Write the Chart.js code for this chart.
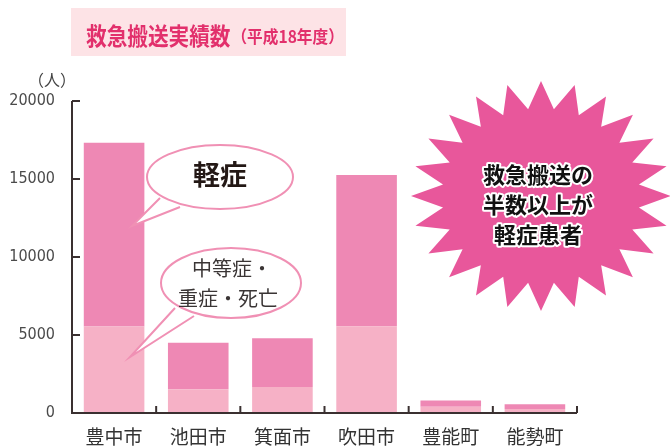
<!DOCTYPE html>
<html>
<head>
<meta charset="utf-8">
<script src="https://cdn.jsdelivr.net/npm/chart.js@4/dist/chart.umd.min.js"></script>
<style>
  html, body { margin: 0; padding: 0; background: #fff; }
  #wrap { width: 670px; height: 448px; position: relative; }
</style>
</head>
<body>
<div id="wrap"><canvas id="chart" width="670" height="448"></canvas></div>
<script>
// 救急搬送実績数（平成18年度）
const cities = ['豊中市', '池田市', '箕面市', '吹田市', '豊能町', '能勢町']
const severe = [5550, 1520, 1660, 5560, 400, 260]     // 中等症・重症・死亡
const mild   = [11780, 2990, 3130, 9700, 400, 300]    // 軽症
const yTicks = [0, 5000, 10000, 15000, 20000]

const CJK = '"Noto Sans CJK JP", "Noto Sans", sans-serif'
const DARK = '#ee88b4'
const LIGHT = '#f6b1c6'

function bubble(ctx, cx, cy, rx, ry, tail) {
  ctx.save()
  ctx.beginPath()
  ctx.ellipse(cx, cy, rx, ry, 0, 0, Math.PI * 2)
  ctx.fillStyle = '#fff'
  ctx.fill()
  ctx.strokeStyle = '#f090b4'
  ctx.lineWidth = 2
  ctx.stroke()
  // tail
  ctx.beginPath()
  ctx.moveTo(tail[0][0], tail[0][1])
  ctx.lineTo(tail[2][0], tail[2][1])
  ctx.lineTo(tail[1][0], tail[1][1])
  ctx.closePath()
  ctx.fill()
  ctx.beginPath()
  ctx.moveTo(tail[0][0], tail[0][1])
  ctx.lineTo(tail[2][0], tail[2][1])
  ctx.lineTo(tail[1][0], tail[1][1])
  ctx.stroke()
  ctx.restore()
}

function starburst(ctx, cx, cy, rx, ry, spikes, inner) {
  ctx.save()
  ctx.beginPath()
  for (let i = 0; i < spikes * 2; i++) {
    const a = -Math.PI / 2 + i * Math.PI / spikes
    const r = i % 2 === 0 ? 1 : inner
    const x = cx + Math.cos(a) * rx * r
    const y = cy + Math.sin(a) * ry * r
    if (i === 0) ctx.moveTo(x, y); else ctx.lineTo(x, y)
  }
  ctx.closePath()
  ctx.fillStyle = '#e8579b'
  ctx.fill()
  ctx.restore()
}

// condensed text: draw with a horizontal squeeze
function squeezed(ctx, text, x, y, sx) {
  ctx.save()
  ctx.translate(x, y)
  ctx.scale(sx, 1)
  ctx.fillText(text, 0, 0)
  ctx.restore()
  return ctx.measureText(text).width * sx
}

const decor = {
  id: 'decor',
  beforeDraw(chart) {
    const ctx = chart.ctx
    // title box
    ctx.save()
    ctx.fillStyle = '#fde3e6'
    ctx.fillRect(71, 8, 275, 48)
    ctx.fillStyle = '#e2306c'
    ctx.textBaseline = 'alphabetic'
    ctx.font = 'bold 24px ' + CJK
    const w = squeezed(ctx, '救急搬送実績数', 86, 45, 0.86)
    ctx.font = 'bold 17px ' + CJK
    squeezed(ctx, '（平成18年度）', 86 + w + 1, 43, 0.92)
    // unit
    ctx.fillStyle = '#444'
    ctx.font = '16px ' + CJK
    ctx.textAlign = 'left'
    ctx.fillText('（人）', 28, 86)
    ctx.restore()
  },
  afterDatasetsDraw(chart) {
    const ctx = chart.ctx
    const x = chart.scales.x, y = chart.scales.y
    const left = chart.chartArea.left, right = chart.chartArea.right
    const base = y.getPixelForValue(0)
    ctx.save()
    ctx.strokeStyle = '#3a3030'
    ctx.lineWidth = 2
    // axes
    ctx.beginPath()
    ctx.moveTo(left, y.getPixelForValue(20000))
    ctx.lineTo(left, base)
    ctx.lineTo(right, base)
    ctx.stroke()
    // inward y ticks
    yTicks.forEach(v => {
      if (v === 0) return
      const py = y.getPixelForValue(v)
      ctx.beginPath()
      ctx.moveTo(left, py)
      ctx.lineTo(left + 8, py)
      ctx.stroke()
    })
    // x ticks between categories and at the end
    for (let i = 0; i < cities.length; i++) {
      const gx = i + 1 < cities.length ? (x.getPixelForValue(i) + x.getPixelForValue(i + 1)) / 2 : right
      ctx.beginPath()
      ctx.moveTo(gx, base)
      ctx.lineTo(gx, base - 7)
      ctx.stroke()
    }
    ctx.restore()

    // speech bubbles
    bubble(ctx, 220, 177, 73, 32, [[160, 198], [180, 207], [132, 226]])
    bubble(ctx, 231, 283, 70, 35, [[175, 308], [194, 316], [130, 357]])
    ctx.save()
    ctx.textAlign = 'center'
    ctx.textBaseline = 'middle'
    ctx.fillStyle = '#231815'
    ctx.font = 'bold 27px ' + CJK
    ctx.fillText('軽症', 220, 175)
    ctx.fillStyle = '#3a3535'
    ctx.font = '20px ' + CJK
    ctx.fillText('中等症・', 232, 268)
    ctx.fillText('重症・死亡', 228, 298)
    ctx.restore()

    // starburst
    starburst(ctx, 541, 196, 130, 115, 24, 0.76)
    ctx.save()
    ctx.textAlign = 'center'
    ctx.textBaseline = 'middle'
    ctx.font = 'bold 22px ' + CJK
    ctx.lineJoin = 'round'
    ctx.strokeStyle = '#fff'
    ctx.lineWidth = 4
    ctx.fillStyle = '#111'
    ;['救急搬送の', '半数以上が', '軽症患者'].forEach((t, i) => {
      ctx.strokeText(t, 538, 175 + i * 30)
      ctx.fillText(t, 538, 175 + i * 30)
    })
    ctx.restore()
  }
}

new Chart(document.getElementById('chart'), {
  type: 'bar',
  data: {
    labels: cities,
    datasets: [
      { label: '中等症・重症・死亡', data: severe, backgroundColor: LIGHT },
      { label: '軽症', data: mild, backgroundColor: DARK }
    ]
  },
  options: {
    responsive: false,
    animation: false,
    events: [],
    layout: { padding: { top: 101, right: 93, left: 0, bottom: 0 } },
    plugins: { legend: { display: false }, tooltip: { enabled: false } },
    datasets: { bar: { categoryPercentage: 1, barPercentage: 0.72 } },
    scales: {
      x: {
        stacked: true,
        grid: { display: false },
        border: { display: false },
        afterFit: s => { s.height = 35 },
        ticks: { color: '#333', font: { family: CJK, size: 19 }, padding: 4, maxRotation: 0 }
      },
      y: {
        stacked: true,
        min: 0,
        max: 20000,
        afterBuildTicks: s => { s.ticks = yTicks.map(v => ({ value: v })) },
        afterFit: s => { s.width = 72 },
        grid: { display: false },
        border: { display: false },
        ticks: {
          color: '#4a4a4a',
          padding: 9,
          callback: v => String(v),
          font: { family: '"Liberation Sans Narrow", "DejaVu Sans Condensed", sans-serif', size: 16 }
        }
      }
    }
  },
  plugins: [decor]
})
</script>
</body>
</html>
